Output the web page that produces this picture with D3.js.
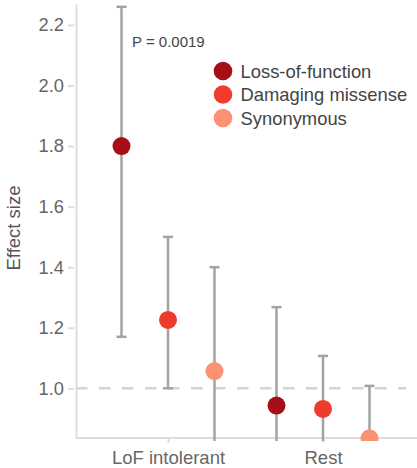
<!DOCTYPE html>
<html>
<head>
<meta charset="utf-8">
<script src="https://cdn.jsdelivr.net/npm/d3@7"></script>
<style>
  html, body { margin: 0; padding: 0; background: #fff; }
  svg { display: block; font-family: "Liberation Sans", Arial, Helvetica, sans-serif; }
</style>
</head>
<body>
<svg id="chart" width="417" height="468"></svg>
<script>
// Gene groups and variant classes
const groups = ["LoF intolerant", "Rest"];
const classes = ["Loss-of-function", "Damaging missense", "Synonymous"];
const classColors = ["#a50f15", "#ef3b2c", "#fc9272"];

// Effect size estimates with 95% confidence intervals (rows: groups, columns: classes)
const estimate = [[1.80, 1.226, 1.057], [0.943, 0.932, 0.835]];
const lower    = [[1.17, 1.00, 0.70],   [0.70, 0.70, 0.70]];
const upper    = [[2.26, 1.50, 1.40],   [1.268, 1.107, 1.008]];

const yTicks = [1.0, 1.2, 1.4, 1.6, 1.8, 2.0, 2.2];
const pLabel = "P = 0.0019";

const svg = d3.select("#chart");

const plot = { left: 76, right: 417, top: 4, bottom: 438 };

const y = d3.scaleLinear().domain([1.0, 2.2]).range([388.3, 25]);
const yDomainLow = y.invert(plot.bottom), yDomainHigh = y.invert(plot.top);
y.domain([yDomainLow, yDomainHigh]).range([plot.bottom, plot.top]);

const x0 = d3.scalePoint().domain(groups).range([168, 323]);
const x1 = d3.scalePoint().domain(classes).range([-46.5, 46.5]);

// Clip for marks so they stop at the bottom axis
svg.append("defs").append("clipPath").attr("id", "plotClip")
  .append("rect")
  .attr("x", plot.left).attr("y", 0)
  .attr("width", plot.right - plot.left).attr("height", 441);

// Y axis
const yAxis = svg.append("g").attr("transform", `translate(${plot.left},0)`)
  .call(d3.axisLeft(y).tickValues(yTicks).tickFormat(d3.format(".1f")).tickSize(7).tickSizeOuter(0).tickPadding(5));
yAxis.select(".domain").attr("stroke", "#dddddd").attr("stroke-width", 2);
yAxis.selectAll(".tick line").attr("stroke", "#dddddd").attr("stroke-width", 2).attr("x1", -8).attr("x2", -2);
yAxis.selectAll(".tick text").attr("fill", "#666").attr("font-size", 18.3).attr("font-family", "Liberation Sans, Arial, sans-serif");

// X axis
const xAxis = svg.append("g").attr("transform", `translate(0,${plot.bottom})`)
  .call(d3.axisBottom(x0).tickSize(5).tickSizeOuter(0).tickPadding(8));
xAxis.select(".domain").attr("stroke", "#dddddd").attr("stroke-width", 2)
  .attr("d", `M${plot.left},0H${plot.right}`);
xAxis.selectAll(".tick line").attr("stroke", "#dddddd").attr("stroke-width", 2);
xAxis.selectAll(".tick text").attr("fill", "#666").attr("font-size", 18.5).attr("font-family", "Liberation Sans, Arial, sans-serif");

// Y axis title
svg.append("text")
  .attr("transform", `translate(20,${228}) rotate(-90)`)
  .attr("text-anchor", "middle")
  .attr("fill", "#555")
  .attr("font-size", 18.5)
  .text("Effect size");

// Reference line at no effect
svg.append("line")
  .attr("x1", plot.left).attr("x2", 406)
  .attr("y1", y(1)).attr("y2", y(1))
  .attr("stroke", "#d4d4d4").attr("stroke-width", 2.5)
  .attr("stroke-dasharray", "11.5,11.5");

// Flatten into one row per estimate
const rows = [];
groups.forEach((g, gi) => classes.forEach((c, ci) => rows.push({
  group: g, cls: c, color: classColors[ci],
  est: estimate[gi][ci], lo: lower[gi][ci], hi: upper[gi][ci]
})));

const marks = svg.append("g").attr("clip-path", "url(#plotClip)");
const cx = d => x0(d.group) + x1(d.cls);

// Confidence intervals
const bars = marks.selectAll("g.ci").data(rows).join("g").attr("class", "ci")
  .attr("stroke", "#a3a3a3").attr("stroke-width", 2.5);
bars.append("line")
  .attr("x1", cx).attr("x2", cx)
  .attr("y1", d => y(d.lo)).attr("y2", d => y(d.hi));
bars.filter(d => y(d.lo) < plot.bottom).append("line")
  .attr("x1", d => cx(d) - 5).attr("x2", d => cx(d) + 5)
  .attr("y1", d => y(d.lo)).attr("y2", d => y(d.lo));
bars.append("line")
  .attr("x1", d => cx(d) - 5).attr("x2", d => cx(d) + 5)
  .attr("y1", d => y(d.hi)).attr("y2", d => y(d.hi));

// Point estimates
marks.selectAll("circle.pt").data(rows).join("circle").attr("class", "pt")
  .attr("cx", cx).attr("cy", d => y(d.est))
  .attr("r", 9)
  .attr("fill", d => d.color);

// Significance annotation
svg.append("text")
  .attr("x", 132).attr("y", 47)
  .attr("fill", "#444").attr("font-size", 15)
  .text(pLabel);

// Legend
const legend = svg.append("g").attr("transform", "translate(223,71)");
const li = legend.selectAll("g").data(classes).join("g")
  .attr("transform", (d, i) => `translate(0,${i * 23.5})`);
li.append("circle").attr("r", 9.3).attr("fill", (d, i) => classColors[i]);
li.append("text").attr("x", 17.5).attr("y", 6.5)
  .attr("fill", "#444").attr("font-size", 18.4).text(d => d);
</script>
</body>
</html>
